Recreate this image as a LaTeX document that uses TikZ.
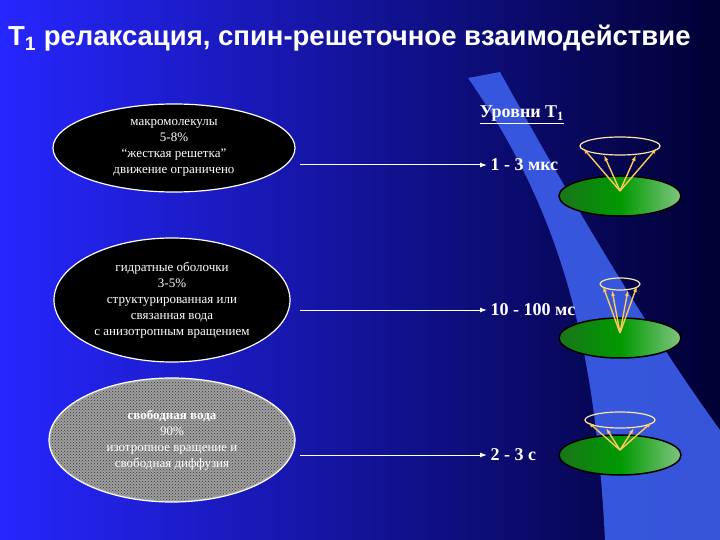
\documentclass[tikz,border=0pt]{standalone}
\usepackage{fontspec}
\setmainfont{Liberation Serif}
\newfontfamily\arial{Liberation Sans}
\usetikzlibrary{patterns,shapes.geometric,arrows.meta}
\definecolor{band}{RGB}{60,95,235}
\definecolor{ringc}{RGB}{255,230,170}
\definecolor{rayc}{RGB}{255,200,90}
\begin{document}
\begin{tikzpicture}[x=1pt,y=-1pt,
 oval/.style={ellipse,draw=white,line width=1.2pt,fill=black,text=white,align=center,font=\fontsize{13}{16}\selectfont,inner sep=0pt},
 lvl/.style={text=white,font=\bfseries\fontsize{18}{20}\selectfont},
 conn/.style={draw=white,line width=1pt,-{Latex[length=7pt,width=5pt]}},
 disk/.style={draw=black,line width=1.5pt,left color=green!40!black!90,right color=green!55!black!50!white,middle color=green!60!black},
 ring/.style={draw=ringc,line width=1.2pt},
 ray/.style={draw=rayc,line width=1.4pt,-{Latex[length=6pt,width=4pt]}}]
\shade[left color=blue!85!white,right color=blue!20!black] (0,0) rectangle (720,540);
\fill[band,opacity=0.9] (468,78) .. controls (560,210) and (595,340) .. (605,540) -- (720,540) -- (720,430) .. controls (640,320) and (560,180) .. (500,72) -- cycle;
\useasboundingbox (0,0) rectangle (720,540);
\node[text=white,font=\arial\bfseries\fontsize{27.5}{30}\selectfont,anchor=west,inner sep=0pt] (title) at (8,38) {T\textsubscript{1} релаксация, спин-решеточное взаимодействие};
\node[oval,minimum width=242,minimum height=88] (e1) at (174,148) {макромолекулы\\5-8\%\\“жесткая решетка”\\движение ограничено};
\node[oval,minimum width=236,minimum height=124] (e2) at (172,300) {гидратные оболочки\\3-5\%\\структурированная или\\связанная вода\\с анизотропным вращением};
\node[oval,fill=gray!75,minimum width=246,minimum height=124] (e3) at (172,440) {};
\fill[pattern=crosshatch dots,pattern color=gray!40!black] (172,440) ellipse [x radius=121,y radius=60];
\node[text=white,align=center,font=\fontsize{13}{16}\selectfont] (t3) at (172,440) {\textbf{свободная вода}\\90\%\\изотропное вращение и\\свободная диффузия};
\node[lvl] (h) at (522,115) {\underline{Уровни T\textsubscript{1}}};
\node[lvl,anchor=west] (l1) at (487,165) {1 - 3 мкс};
\node[lvl,anchor=west] (l2) at (487,310) {10 - 100 мс};
\node[lvl,anchor=west] (l3) at (487,455) {2 - 3 с};
\coordinate (a1) at (300,165); \coordinate (a2) at (300,310); \coordinate (a3) at (300,455);
\draw[conn] (a1) -- (l1.west);
\draw[conn] (a2) -- (l2.west);
\draw[conn] (a3) -- (l3.west);
\foreach \cy/\ry/\rx/\rh in {196/146/40/9, 338/284/20/6, 455/420/35/8}{
 \draw[disk] (620,\cy) ellipse [x radius=61,y radius=20];
 \draw[ring] (620,\ry) ellipse [x radius=\rx,y radius=\rh];
 \coordinate (apex) at (620,\cy-5);
 \draw[ray] (apex) -- (620-\rx+3,\ry+2);
 \draw[ray] (apex) -- (620-\rx*0.4,\ry+\rh);
 \draw[ray] (apex) -- (620+\rx*0.4,\ry+\rh);
 \draw[ray] (apex) -- (620+\rx-3,\ry+2);
}
\end{tikzpicture}
\end{document}
